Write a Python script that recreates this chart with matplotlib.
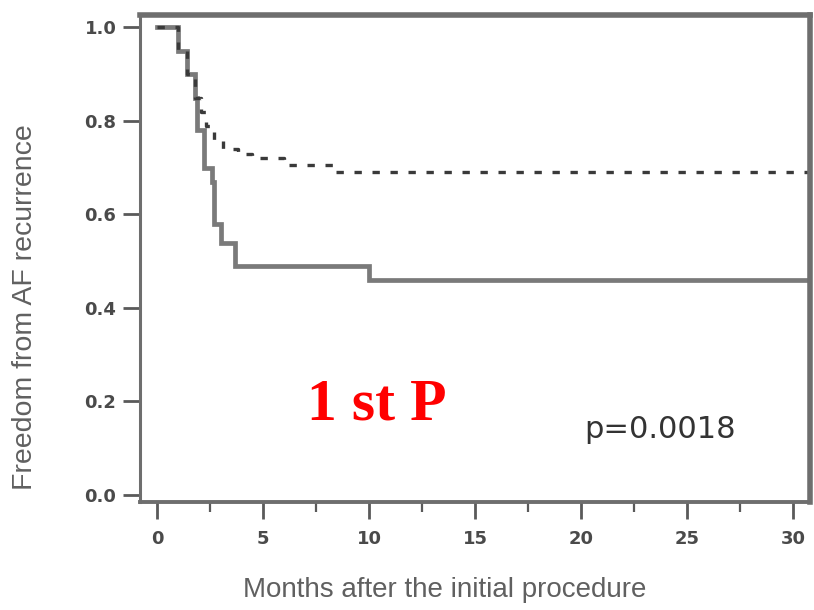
import matplotlib
matplotlib.use("Agg")
import matplotlib.pyplot as plt
from matplotlib.ticker import MultipleLocator, FormatStrFormatter

# Kaplan-Meier step curves (months, freedom from AF recurrence)
solid_t = [0.0, 1.0, 1.4, 1.8, 1.9, 2.2, 2.6, 2.7, 3.0, 3.7, 10.0, 31.0]
solid_s = [1.00, 0.95, 0.90, 0.85, 0.78, 0.70, 0.67, 0.58, 0.54, 0.49, 0.46, 0.46]

dashed_t = [0.0, 1.0, 1.4, 1.8, 2.1, 2.3, 2.7, 3.1, 3.8, 4.5, 6.0, 8.3, 31.0]
dashed_s = [1.00, 0.95, 0.90, 0.85, 0.82, 0.79, 0.76, 0.74, 0.73, 0.72, 0.705, 0.69, 0.69]

x_ticks = [0, 5, 10, 15, 20, 25, 30]
y_ticks = [0.0, 0.2, 0.4, 0.6, 0.8, 1.0]

p_text = "p=0.0018"
panel_text = "1 st P"
x_label = "Months after the initial procedure"
y_label = "Freedom from AF recurrence"

fig = plt.figure(figsize=(8.14, 6.10), dpi=100)
ax = fig.add_axes([0.172, 0.177, 0.823, 0.798])

ax.step(solid_t, solid_s, where="post", color="#7a7a7a", lw=3.4,
        solid_joinstyle="miter")
ax.step(dashed_t, dashed_s, where="post", color="#3a3a3a", lw=2.4,
        linestyle=(0, (2.2, 3.2)))

ax.set_xlim(-0.8, 30.8)
ax.set_ylim(-0.015, 1.026)

ax.set_xticks(x_ticks)
ax.xaxis.set_minor_locator(MultipleLocator(2.5))
ax.set_yticks(y_ticks)
ax.yaxis.set_major_formatter(FormatStrFormatter("%.1f"))

tick_color = "#5a5a5a"
ax.tick_params(axis="x", which="major", length=12, width=2.0, color=tick_color,
               labelsize=13, labelcolor="#4a4a4a", pad=8)
ax.tick_params(axis="x", which="minor", length=7, width=1.6, color=tick_color)
ax.tick_params(axis="y", which="major", length=12, width=2.0, color=tick_color,
               labelsize=13, labelcolor="#4a4a4a", pad=5)
for lab in ax.get_xticklabels() + ax.get_yticklabels():
    lab.set_fontweight("bold")

spine_color = "#6e6e6e"
ax.spines["top"].set_linewidth(4.0)
ax.spines["right"].set_linewidth(4.0)
ax.spines["left"].set_linewidth(2.2)
ax.spines["bottom"].set_linewidth(2.8)
for sp in ax.spines.values():
    sp.set_color(spine_color)

ax.set_xlabel(x_label, fontsize=20, color="#606060", family="Liberation Sans")
ax.set_ylabel(y_label, fontsize=20.5, color="#606060", family="Liberation Sans")
ax.xaxis.set_label_coords(0.455, -0.18)
ax.yaxis.set_label_coords(-0.172, 0.40)
ax.xaxis.label.set_va("center")
ax.yaxis.label.set_va("center")

ax.text(0.354, 0.199, panel_text, transform=ax.transAxes, color="red",
        fontsize=43, fontweight="bold", family="Liberation Serif",
        ha="center", va="center")
ax.text(0.776, 0.148, p_text, transform=ax.transAxes, color="#333333",
        fontsize=22, ha="center", va="center")

fig.savefig("out.png", dpi=100)
